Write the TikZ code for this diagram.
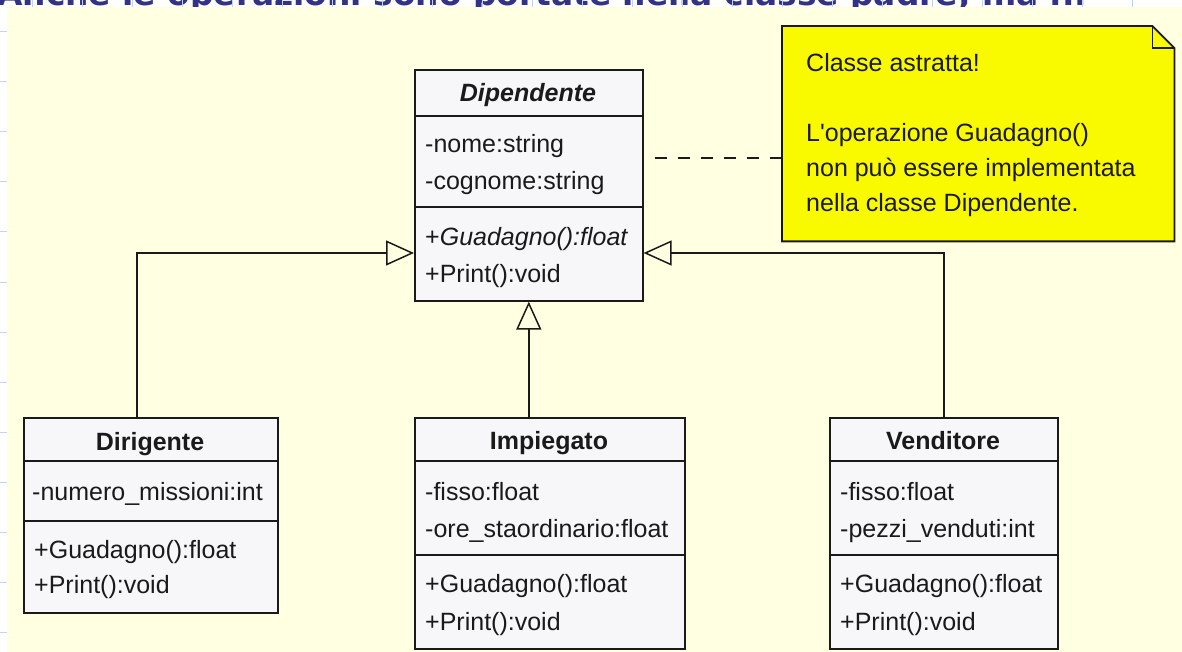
\documentclass[tikz,border=0pt]{standalone}
\usepackage{fontspec}
\usepackage{graphicx}
\setmainfont{Liberation Sans}
\newfontfamily\titlefont{DejaVu Sans}
\usetikzlibrary{arrows.meta,calc}
\definecolor{bgyellow}{HTML}{FFFFE2}
\definecolor{boxfill}{HTML}{F7F7F9}
\definecolor{noteyellow}{HTML}{F9F900}
\definecolor{gridblue}{HTML}{C5D3F2}
\definecolor{titleblue}{HTML}{333385}
\definecolor{ink}{HTML}{1A1A1A}
\begin{document}
\begin{tikzpicture}[x=1pt,y=-1pt,
  classbox/.style={draw=ink, fill=boxfill, line width=1.6pt, anchor=north west, inner sep=0pt},
  divider/.style={draw=ink, line width=1.6pt},
  txt/.style={anchor=base west, inner sep=0pt, text=ink, font=\fontsize{25}{30}\selectfont},
  ctitle/.style={anchor=base, inner sep=0pt, text=ink, font=\fontsize{25}{30}\selectfont\bfseries},
  inh/.style={draw=ink, line width=1.5pt, -{Triangle[open, length=28pt, width=25pt, line width=1.5pt]}},
  dashline/.style={draw=ink, line width=1.5pt, dash pattern=on 12pt off 11pt, dash phase=12pt},
  notestyle/.style={draw=ink, line width=1.8pt, fill=noteyellow, line join=miter}
]
\useasboundingbox (0,0) rectangle (1182,652);
\fill[white] (0,0) rectangle (1182,652);
% cut-off title
\begin{scope}
  \clip (0,0) rectangle (1182,7);
  \node[anchor=base west, inner sep=0pt, text=titleblue] (title) at (-3,6)
    {\resizebox{1090pt}{!}{\titlefont\bfseries Anche le operazioni sono portate nella classe padre, ma ...}};
\end{scope}
% slide grid ticks
\foreach \k in {0,...,23} \draw[gridblue, line width=1pt] (32+50*\k,0) -- (32+50*\k,7);
\foreach \k in {0,...,12} \draw[gridblue, line width=1pt] (0,32+50*\k) -- (7,32+50*\k);
\fill[bgyellow] (7,7) rectangle (1182,652);

% Dipendente
\node[classbox, minimum width=228pt, minimum height=231pt] (dip) at (414,69) {};
\draw[divider] (dip.west |- 0,116) -- (dip.east |- 0,116);
\draw[divider] (dip.west |- 0,207) -- (dip.east |- 0,207);
\node[ctitle] (dipT) at (528,102) {\itshape Dipendente};
\node[txt] (dipA1) at (425,153) {-nome:string};
\node[txt] (dipA2) at (425,190) {-cognome:string};
\node[txt] (dipM1) at (425,245) {+\itshape Guadagno():float};
\node[txt] (dipM2) at (425,282) {+Print():void};

% Dirigente
\node[classbox, minimum width=254pt, minimum height=195pt] (dir) at (23,417) {};
\draw[divider] (dir.west |- 0,461) -- (dir.east |- 0,461);
\draw[divider] (dir.west |- 0,521) -- (dir.east |- 0,521);
\node[ctitle] (dirT) at (150,450) {Dirigente};
\node[txt] (dirA1) at (32,500) {-numero\_missioni:int};
\node[txt] (dirM1) at (34,558) {+Guadagno():float};
\node[txt] (dirM2) at (34,593) {+Print():void};

% Impiegato
\node[classbox, minimum width=270pt, minimum height=231pt] (imp) at (414,417) {};
\draw[divider] (imp.west |- 0,461) -- (imp.east |- 0,461);
\draw[divider] (imp.west |- 0,555) -- (imp.east |- 0,555);
\node[ctitle] (impT) at (549,449) {Impiegato};
\node[txt] (impA1) at (425,500) {-fisso:float};
\node[txt] (impA2) at (425,537) {-ore\_staordinario:float};
\node[txt] (impM1) at (425,592) {+Guadagno():float};
\node[txt] (impM2) at (425,630) {+Print():void};

% Venditore
\node[classbox, minimum width=228pt, minimum height=231pt] (ven) at (829,417) {};
\draw[divider] (ven.west |- 0,461) -- (ven.east |- 0,461);
\draw[divider] (ven.west |- 0,555) -- (ven.east |- 0,555);
\node[ctitle] (venT) at (943,449) {Venditore};
\node[txt] (venA1) at (840,500) {-fisso:float};
\node[txt] (venA2) at (840,537) {-pezzi\_venduti:int};
\node[txt] (venM1) at (840,592) {+Guadagno():float};
\node[txt] (venM2) at (840,630) {+Print():void};

% Note
\node[minimum width=392pt, minimum height=215pt, anchor=north west, inner sep=0pt] (note) at (782,26) {};
\filldraw[notestyle] (note.north west) -- ($(note.north east)+(-22,0)$) -- ($(note.north east)+(0,22)$)
  -- (note.south east) -- (note.south west) -- cycle;
\draw[notestyle, fill=none] ($(note.north east)+(-22,0)$) -- ($(note.north east)+(-22,22)$) -- ($(note.north east)+(0,22)$);
\node[txt] (n1) at (806,72) {Classe astratta!};
\node[txt] (n2) at (806,142) {L\textquotesingle operazione Guadagno()};
\node[txt] (n3) at (806,177) {non può essere implementata};
\node[txt] (n4) at (806,212) {nella classe Dipendente.};

% Connectors
\draw[inh] (dir.north -| 137,0) |- (dip.west |- 0,253);
\draw[inh] (ven.north) |- (dip.east |- 0,253);
\draw[inh] (imp.north -| dip.south) -- (dip.south);
\draw[dashline] (dip.east |- 0,158) -- (note.west |- 0,158);
\end{tikzpicture}
\end{document}
